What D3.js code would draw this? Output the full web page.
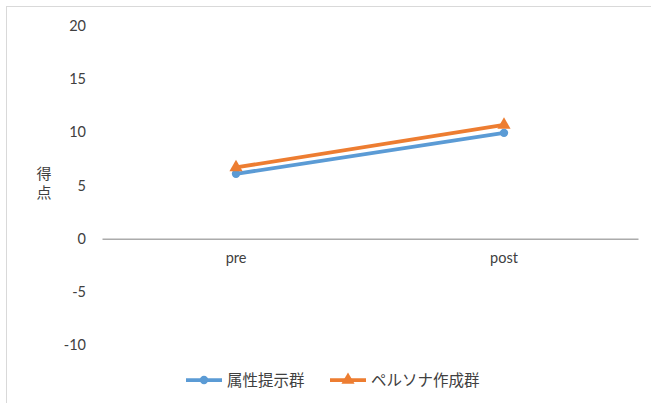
<!DOCTYPE html>
<html><head><meta charset="utf-8">
<script src="https://cdn.jsdelivr.net/npm/d3@7/dist/d3.min.js"></script>
<style>body{margin:0;background:#fff}svg{display:block}</style>
</head><body>
<script>
const categories = ["pre", "post"];
const seriesNames = ["属性提示群", "ペルソナ作成群"];
const attrValues = [6.1, 9.95];
const personaValues = [6.7, 10.7];
const yTicks = [-10, -5, 0, 5, 10, 15, 20];
const yTitle = "得点";

const W = 651, H = 403;
const svg = d3.select("body").append("svg").attr("width", W).attr("height", H);
svg.append("rect").attr("x", 6.5).attr("y", 6.5).attr("width", W + 10).attr("height", H + 10)
  .attr("fill", "#fff").attr("stroke", "#d9d9d9").attr("stroke-width", 1);

const left = 102, right = 638;
const y = d3.scaleLinear().domain([-10, 20]).range([345, 26]);
const x = d3.scaleBand().domain(categories).range([left, right]);
const cx = d => x(d) + x.bandwidth() / 2;

const latin = "Lato, 'Open Sans', sans-serif";
const cjk = "'Noto Sans CJK JP', sans-serif";

// y tick labels
const yAxis = d3.axisLeft(y).tickValues(yTicks).tickFormat(d => String(d)).tickSize(0).tickPadding(0);
const gy = svg.append("g").attr("transform", "translate(86,0)").call(yAxis);
gy.select(".domain").remove();
gy.selectAll("text").attr("font-family", latin).attr("font-size", 14.5).attr("fill", "#404040");

// x axis at 0
const gx = svg.append("g").attr("transform", `translate(0,${y(0)})`)
  .call(d3.axisBottom(x).tickSize(0).tickPadding(14));
gx.select(".domain").attr("stroke", "#808080").attr("stroke-width", 1);
gx.selectAll("text").attr("font-family", latin).attr("font-size", 14.5).attr("fill", "#404040");

// y title (vertical stacked)
const yt = svg.append("text").attr("font-family", cjk).attr("font-size", 15).attr("fill", "#404040")
  .attr("text-anchor", "middle");
yTitle.split("").forEach((c, i) => yt.append("tspan").attr("x", 44).attr("y", 179 + i * 19).text(c));

const series = [
  {name: seriesNames[0], values: attrValues, color: "#5B9BD5", marker: "circle"},
  {name: seriesNames[1], values: personaValues, color: "#ED7D31", marker: "triangle"}
];
const line = d3.line().x((d, i) => cx(categories[i])).y(d => y(d));
const sym = {circle: d3.symbol().type(d3.symbolCircle).size(55),
             triangle: d3.symbol().type(d3.symbolTriangle).size(75)};

series.forEach(s => {
  svg.append("path").attr("d", line(s.values)).attr("fill", "none")
    .attr("stroke", s.color).attr("stroke-width", 3.75);
  svg.selectAll(null).data(s.values).enter().append("path")
    .attr("d", sym[s.marker]())
    .attr("transform", (d, i) => `translate(${cx(categories[i])},${y(d)})`)
    .attr("fill", s.color);
});

// legend
const legX = [186, 330], legY = 380;
series.forEach((s, i) => {
  const g = svg.append("g").attr("transform", `translate(${legX[i]},${legY})`);
  g.append("line").attr("x1", 0).attr("x2", 36).attr("y1", 0).attr("y2", 0)
    .attr("stroke", s.color).attr("stroke-width", 3.75);
  g.append("path").attr("d", sym[s.marker]()).attr("transform", "translate(18,0)").attr("fill", s.color);
  g.append("text").attr("x", 41).attr("y", 5.5).attr("font-family", cjk).attr("font-size", 15.5)
    .attr("fill", "#404040").text(s.name);
});
</script>
</body></html>
